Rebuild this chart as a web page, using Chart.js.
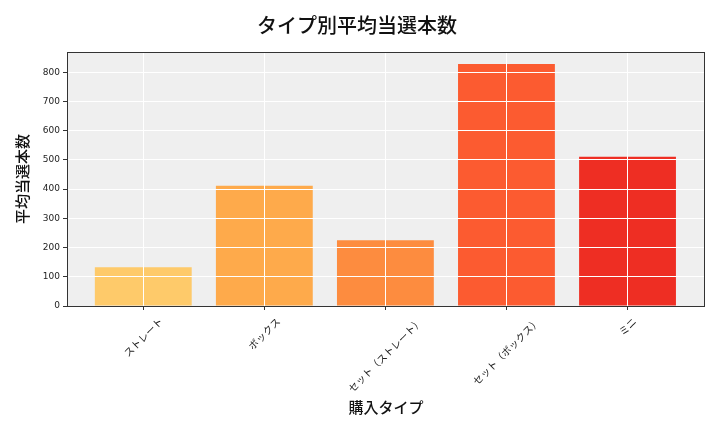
<!DOCTYPE html>
<html>
<head>
<meta charset="utf-8">
<script src="https://cdn.jsdelivr.net/npm/chart.js@4"></script>
<style>
  html, body { margin: 0; padding: 0; background: #fff; }
  #wrap { width: 720px; height: 432px; }
</style>
</head>
<body>
<div id="wrap"><canvas id="typeChart" width="720" height="432"></canvas></div>
<script>
const types = ['ストレート', 'ボックス', 'セット（ストレート）', 'セット（ボックス）', 'ミニ'];
const avgWins = [133, 411, 225, 828, 511];
const barColors = ['#FECA6A', '#FEAA4B', '#FD8C3F', '#FC5B30', '#EE2E23'];
const yTicks = [0, 100, 200, 300, 400, 500, 600, 700, 800];

const jpFont = '"Noto Sans CJK JP", "Noto Sans", sans-serif';

// plot background + white grid on top of the bars + dark frame
const plotFrame = {
  id: 'plotFrame',
  beforeDatasetsDraw(chart) {
    const { ctx, chartArea: a } = chart;
    ctx.save();
    ctx.fillStyle = '#EFEFEF';
    ctx.fillRect(a.left, a.top, a.right - a.left, a.bottom - a.top);
    ctx.restore();
  },
  afterDatasetsDraw(chart) {
    const { ctx, chartArea: a } = chart;
    chart.scales.x.drawGrid(a);
    chart.scales.y.drawGrid(a);
    ctx.save();
    ctx.strokeStyle = '#333';
    ctx.lineWidth = 1;
    ctx.strokeRect(a.left + 0.5, a.top + 0.5, a.right - a.left - 1, a.bottom - a.top);
    ctx.restore();
  },
  // rotated labels centred under each tick (like the original)
  afterDraw(chart) {
    const { ctx, chartArea: a } = chart;
    const xs = chart.scales.x;
    const size = 10;
    ctx.save();
    ctx.font = `${size}px ${jpFont}`;
    ctx.fillStyle = '#222';
    ctx.textAlign = 'center';
    ctx.textBaseline = 'middle';
    types.forEach((t, i) => {
      const w = ctx.measureText(t).width;
      const d = (w + size) / Math.SQRT2;
      ctx.save();
      ctx.translate(xs.getPixelForValue(i), a.bottom + 10 + d / 2);
      ctx.rotate(-Math.PI / 4);
      ctx.fillText(t, 0, 0);
      ctx.restore();
    });
    ctx.restore();
  }
};

const ctx = document.getElementById('typeChart');
const typeChart = new Chart(ctx, {
  type: 'bar',
  data: {
    datasets: [{
      data: avgWins.map((v, i) => ({ x: i, y: v })),
      backgroundColor: barColors,
      borderWidth: 0,
      barPercentage: 0.8,
      categoryPercentage: 1,
    }],
  },
  options: {
    responsive: false,
    animation: false,
    layout: { padding: { left: 9, right: 15, top: 0, bottom: 12 } },
    plugins: {
      legend: { display: false },
      tooltip: { enabled: false },
      title: {
        display: true,
        text: 'タイプ別平均当選本数',
        color: '#111',
        font: { family: jpFont, size: 20, weight: 500 },
        padding: { top: 13, bottom: 15 },
      },
    },
    scales: {
      x: {
        type: 'linear',
        offset: false,
        min: -0.63,
        max: 4.64,
        afterFit(scale) { scale.height = 114; },
        afterBuildTicks(scale) {
          scale.ticks = types.map((t, i) => ({ value: i }));
        },
        ticks: {
          includeBounds: false,
          autoSkip: false,
          maxRotation: 0,
          callback: () => '',
        },
        grid: { offset: false, color: '#fff', lineWidth: 1, tickColor: '#333', tickLength: 4 },
        border: { display: false },
        title: {
          display: true,
          text: '購入タイプ',
          color: '#111',
          font: { family: jpFont, size: 15, weight: 500 },
        },
      },
      y: {
        min: 0,
        max: 869,
        afterFit(scale) { scale.width = 58; },
        afterBuildTicks(scale) {
          scale.ticks = yTicks.map(v => ({ value: v }));
        },
        ticks: {
          color: '#222',
          padding: 3,
          font: { family: 'DejaVu Sans', size: 9 },
        },
        grid: { color: '#fff', lineWidth: 1, tickColor: '#333', tickLength: 4 },
        border: { display: false },
        title: {
          display: true,
          text: '平均当選本数',
          color: '#111',
          font: { family: jpFont, size: 15, weight: 500 },
        },
      },
    },
  },
  plugins: [plotFrame],
});
</script>
</body>
</html>
